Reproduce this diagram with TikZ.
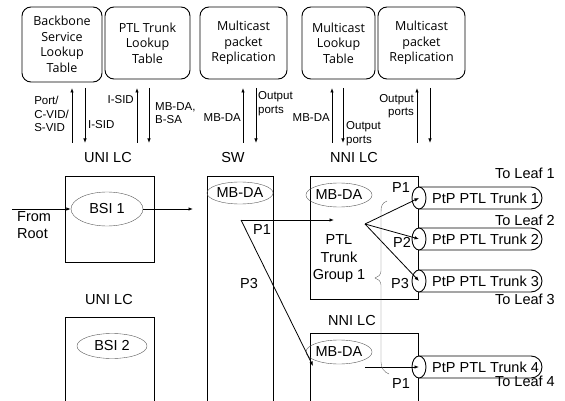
\documentclass[tikz,border=0pt]{standalone}
\usepackage{fontspec}
\setmainfont{Liberation Sans}
\newfontfamily\lutfont{Open Sans}
\usetikzlibrary{arrows.meta, shapes.geometric}

\begin{document}
\begin{tikzpicture}[x=1pt, y=-1pt,
  lut/.style={draw, line width=0.9pt, rounded corners=9pt, align=center, inner sep=0pt,
    font=\lutfont\fontsize{12.5}{15.5}\selectfont},
  card/.style={draw, line width=0.9pt, inner sep=0pt},
  tag/.style={draw=gray!70!black, ellipse, inner sep=0pt, font=\fontsize{14.5}{16}\selectfont},
  lbl/.style={font=\fontsize{14.5}{17.5}\selectfont, inner sep=0pt},
  note/.style={font=\fontsize{11.5}{13.5}\selectfont, inner sep=0pt},
  arr/.style={-{Latex[length=4.5pt,width=3.5pt]}, line width=0.8pt}]
\useasboundingbox (0,0) rectangle (565,401);

% lookup tables
\node[lut, minimum width=80, minimum height=75] (bsl) at (62,44.5) {Backbone\\Service\\Lookup\\Table};
\node[lut, minimum width=85, minimum height=72] (ptl) at (147.5,43) {PTL Trunk\\Lookup\\Table};
\node[lut, minimum width=87, minimum height=72] (rep1) at (243.5,43) {Multicast\\packet\\Replication};
\node[lut, minimum width=73, minimum height=72] (mlt) at (338.5,43) {Multicast\\Lookup\\Table};
\node[lut, minimum width=87, minimum height=72] (rep2) at (421.5,43) {Multicast\\packet\\Replication};

% request / reply arrows
\foreach \n/\x in {a/72,b/137,c/243,d/332,e/417} {
  \coordinate (\n-lo) at (\x,143);
  \coordinate (\n-hi) at (\x,88);
  \draw[arr] (\n-lo) -- (\n-hi);
}
\foreach \n/\x in {a/85,b/149,c/256,d/343,e/430} {
  \coordinate (\n-top) at (\x,88);
  \coordinate (\n-bot) at (\x,143);
  \draw[arr] (\n-top) -- (\n-bot);
}
\node[note, anchor=east, align=left] (port) at (69,114) {Port/\\C-VID/\\S-VID};
\node[note, anchor=west] (isid1) at (88,125) {I-SID};
\node[note, anchor=east] (isid2) at (134,100) {I-SID};
\node[note, anchor=west, align=left] (mbsa) at (155,113) {MB-DA,\\B-SA};
\node[note, anchor=east] (mbda1) at (241,118) {MB-DA};
\node[note, anchor=west, align=left] (outp1) at (258,103.5) {Output\\ports};
\node[note, anchor=east] (mbda2) at (330,118) {MB-DA};
\node[note, anchor=west, align=left] (outp2) at (346,133.5) {Output\\ports};
\node[note, anchor=east, align=right] (outp3) at (414,106) {Output\\ports};

% line cards
\node[lbl] (unilc1) at (108,158) {UNI LC};
\node[lbl] (swlc) at (233,158) {SW};
\node[lbl] (nnilc1) at (354,158) {NNI LC};
\node[lbl] (unilc2) at (109,300) {UNI LC};
\node[lbl] (nnilc2) at (352,321) {NNI LC};

\node[card, minimum width=89, minimum height=86] (uni1) at (109.5,219) {};
\node[card, minimum width=108, minimum height=123] (nni1) at (364,237.5) {};
\draw[line width=0.9pt] (65,401) |- (154,317) -- (154,401);
\draw[line width=0.9pt] (207,401) |- (273,176) -- (273,401);
\draw[line width=0.9pt] (310,401) |- (418,333) -- (418,401);

\node[tag, minimum width=72, minimum height=34] (bsi1) at (107,209) {BSI 1};
\node[tag, minimum width=70, minimum height=25] (bsi2) at (112,346) {BSI 2};
\node[tag, minimum width=58, minimum height=22] (swmb) at (240,193) {MB-DA};
\node[tag, minimum width=58, minimum height=24] (nnimb1) at (339,195) {MB-DA};
\node[tag, minimum width=58, minimum height=24] (nnimb2) at (339,352) {MB-DA};

\node[lbl, anchor=north west, align=left] (root) at (17,211) {From\\Root};
\coordinate (in) at (12,209);
\coordinate (swin) at (193,209);
\draw[arr] (in) -- (bsi1.west);
\draw[arr] (bsi1.east) -- (swin);

% trunks
\foreach \i/\y in {1/198,2/239,3/281,4/367} {
  \draw[line width=0.9pt, rounded corners=11pt] (419,\y-11) -- (542,\y-11) -- (542,\y+11) -- (419,\y+11);
  \node[draw, line width=0.9pt, ellipse, fill=white, minimum width=14, minimum height=22, inner sep=0pt] (t\i) at (419,\y) {};
  \node[lbl, anchor=west] (tk\i) at (432,\y) {PtP PTL Trunk \i};
}
\node[lbl, anchor=east] (leaf1) at (555,173) {To Leaf 1};
\node[lbl, anchor=east] (leaf2) at (555,220) {To Leaf 2};
\node[lbl, anchor=east] (leaf3) at (555,299) {To Leaf 3};
\node[lbl, anchor=east] (leaf4) at (555,381) {To Leaf 4};

\node[lbl, align=center] (grp) at (339,259) {PTL\\Trunk\\Group 1};
\node[lbl] (p1) at (401,188) {P1};
\node[lbl] (p2) at (402,242) {P2};
\node[lbl] (p3) at (400,284) {P3};
\node[lbl] (p4) at (401,384) {P1};
\node[lbl] (sp1) at (262,230) {P1};
\node[lbl] (sp3) at (249,284) {P3};

% switching
\coordinate (fork) at (241,220);
\coordinate (nni1in) at (334,220);
\coordinate (nni2in) at (313,366);
\coordinate (fan) at (365,224);
\coordinate (mc2) at (365,367);
\draw[arr] (fork) -- (nni1in);
\draw[arr] (fork) -- (nni2in);
\foreach \i in {1,2,3}
  \draw[arr] (fan) -- (t\i.center);
\draw[arr] (mc2) -- (t4.center);

% trunk group brace
\draw[gray!80!black, thin] (387,201) .. controls (382,203) and (381,206) .. (381,212) -- (381,271)
  .. controls (381,275) and (378,277) .. (375,278) .. controls (378,279) and (381,281) .. (381,285)
  -- (381,362) .. controls (381,368) and (384,372) .. (389,374);
\end{tikzpicture}
\end{document}
